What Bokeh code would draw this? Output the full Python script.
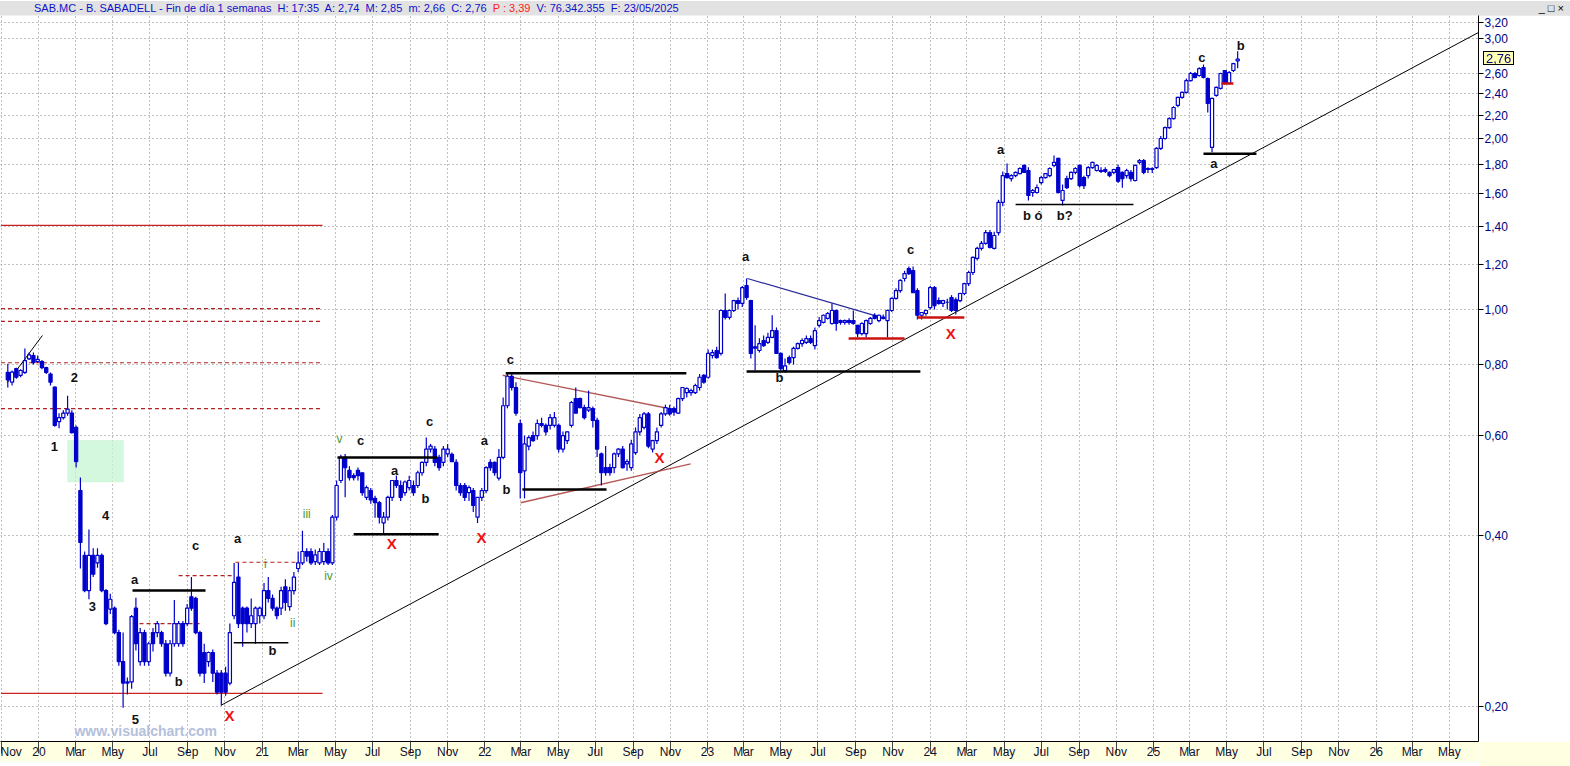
from datetime import datetime, timedelta
from bokeh.plotting import figure
from bokeh.models import Range1d, FixedTicker, CustomJSTickFormatter, Label, BoxAnnotation, Div, ColumnDataSource
from bokeh.layouts import column
from bokeh.core.properties import value
from bokeh.embed import file_html
from bokeh.resources import INLINE

# ---------------- data (weekly candles, first week = 2019-11-11) ----------------
FIRST_WEEK = datetime(2019, 11, 11)

opens = [
 .775,.745,.787,.766,.775,.819,.830,.810,.810,.790,
 .770,.730,.635,.645,.657,.657,.620,.480,.369,.320,
 .369,.358,.369,.320,.297,.298,.270,.240,.221,.221,
 .298,.240,.270,.240,.270,.270,.270,.258,.229,.258,
 .258,.280,.280,.312,.310,.270,.249,.240,.249,.229,
 .229,.229,.220,.289,.338,.298,.298,.280,.280,.289,
 .289,.320,.310,.298,.298,.325,.300,.320,.350,.358,
 .375,.375,.360,.358,.360,.375,.358,.431,.500,.549,
 .521,.510,.521,.516,.467,.480,.465,.457,.421,.431,
 .467,.500,.490,.476,.486,.490,.490,.516,.538,.568,
 .568,.549,.538,.557,.556,.538,.490,.490,.476,.480,
 .431,.467,.480,.538,.538,.505,.549,.677,.763,.729,
 .630,.520,.575,.600,.600,.630,.625,.625,.625,.625,
 .568,.588,.625,.697,.697,.672,.665,.669,.638,.557,
 .527,.527,.527,.557,.568,.535,.527,.560,.609,.620,
 .655,.568,.588,.625,.655,.669,.669,.657,.697,.714,
 .714,.714,.729,.766,.760,.830,.847,.837,.996,.969,
 .996,1.037,1.025,1.102,1.037,.860,.847,.882,.875,.893,
 .918,.837,.781,.823,.823,.854,.871,.875,.889,.864,
 .938,.949,.965,.945,.996,.956,.949,.956,.956,.938,
 .907,.907,.945,.977,.956,.965,.956,.996,1.046,1.080,
 1.134,1.181,1.171,1.080,.977,.984,1.008,1.093,1.037,1.025,
 1.030,1.050,1.040,1.037,1.067,1.111,1.162,1.230,1.281,1.307,
 1.366,1.281,1.366,1.544,1.735,1.700,1.721,1.735,1.793,1.757,
 1.607,1.607,1.672,1.707,1.721,1.793,1.846,1.556,1.700,1.700,
 1.743,1.793,1.707,1.721,1.778,1.757,1.757,1.764,1.743,1.743,
 1.778,1.743,1.721,1.743,1.687,1.816,1.829,1.765,1.765,1.778,
 1.921,2.000,2.090,2.168,2.287,2.363,2.411,2.530,2.603,2.582,
 2.667,2.551,1.930,2.382,2.450,2.635,2.500,2.635,2.740]

highs = [
 .803,.781,.790,.785,.854,.840,.840,.830,.815,.793,
 .775,.732,.657,.665,.705,.665,.625,.506,.375,.410,
 .380,.380,.372,.322,.316,.300,.273,.270,.225,.290,
 .311,.275,.273,.260,.275,.283,.272,.262,.262,.308,
 .283,.283,.303,.338,.312,.272,.258,.250,.252,.232,
 .232,.235,.280,.358,.358,.300,.300,.310,.300,.300,
 .330,.338,.315,.300,.325,.335,.325,.345,.375,.408,
 .380,.380,.378,.380,.388,.380,.435,.500,.555,.557,
 .530,.515,.527,.516,.490,.485,.470,.460,.440,.470,
 .500,.510,.500,.500,.510,.500,.520,.540,.595,.580,
 .575,.555,.575,.580,.560,.545,.495,.495,.490,.485,
 .467,.485,.530,.545,.540,.568,.700,.775,.775,.745,
 .640,.600,.600,.610,.640,.645,.630,.655,.660,.630,
 .610,.610,.690,.729,.700,.680,.720,.675,.645,.560,
 .575,.535,.560,.570,.575,.545,.590,.620,.655,.660,
 .660,.590,.620,.660,.680,.680,.675,.700,.730,.730,
 .725,.740,.770,.770,.850,.850,.860,1.000,1.067,1.000,
 1.040,1.050,1.100,1.134,1.040,.938,.890,.900,.910,.977,
 .930,.840,.820,.830,.860,.875,.890,.900,.900,.930,
 .970,.980,.990,1.025,1.000,.960,.960,.965,.996,.940,
 .950,.960,.970,.985,.980,.980,1.000,1.050,1.090,1.130,
 1.170,1.190,1.190,1.090,.990,1.000,1.100,1.100,1.050,1.040,
 1.045,1.060,1.050,1.070,1.115,1.170,1.240,1.290,1.320,1.380,
 1.380,1.370,1.560,1.750,1.808,1.730,1.750,1.780,1.800,1.780,
 1.630,1.660,1.720,1.740,1.780,1.867,1.850,1.660,1.720,1.750,
 1.780,1.800,1.720,1.790,1.820,1.800,1.780,1.780,1.750,1.770,
 1.800,1.750,1.770,1.760,1.800,1.840,1.840,1.780,1.780,1.930,
 2.020,2.100,2.180,2.280,2.370,2.420,2.550,2.620,2.620,2.670,
 2.700,2.560,2.360,2.470,2.610,2.640,2.630,2.720,2.850]

lows = [
 .729,.735,.755,.760,.770,.815,.800,.805,.785,.770,
 .735,.622,.618,.640,.650,.605,.527,.350,.318,.309,
 .338,.351,.318,.278,.291,.268,.236,.199,.210,.215,
 .251,.236,.236,.236,.250,.265,.255,.226,.226,.255,
 .255,.255,.277,.295,.268,.226,.220,.235,.221,.210,
 .201,.209,.218,.285,.275,.255,.270,.275,.258,.280,
 .285,.305,.295,.285,.290,.295,.295,.315,.345,.355,
 .360,.355,.355,.355,.355,.355,.355,.425,.495,.467,
 .500,.500,.500,.470,.462,.455,.430,.420,.403,.425,
 .460,.485,.460,.470,.480,.470,.485,.510,.530,.560,
 .530,.520,.530,.550,.540,.480,.470,.460,.460,.440,
 .421,.460,.475,.520,.510,.500,.545,.670,.720,.650,
 .465,.465,.565,.585,.590,.620,.600,.615,.620,.560,
 .560,.580,.620,.657,.670,.640,.660,.620,.550,.490,
 .510,.510,.515,.550,.525,.520,.520,.555,.600,.615,
 .570,.560,.580,.620,.650,.650,.650,.655,.690,.700,
 .705,.710,.720,.740,.755,.820,.820,.830,.960,.960,
 .990,1.000,1.010,1.040,.820,.781,.840,.860,.870,.890,
 .835,.781,.775,.800,.800,.850,.860,.870,.870,.850,
 .930,.945,.960,.940,.918,.940,.940,.940,.940,.893,
 .900,.893,.940,.960,.950,.960,.893,.990,1.040,1.070,
 1.120,1.150,1.070,.960,.960,.975,1.000,1.000,1.020,1.010,
 1.000,.990,.980,1.030,1.060,1.100,1.150,1.220,1.270,1.300,
 1.280,1.275,1.350,1.520,1.700,1.680,1.710,1.730,1.740,1.556,
 1.580,1.600,1.660,1.700,1.710,1.780,1.600,1.525,1.630,1.690,
 1.730,1.640,1.630,1.700,1.770,1.750,1.740,1.740,1.710,1.730,
 1.670,1.639,1.700,1.680,1.680,1.800,1.730,1.740,1.740,1.770,
 1.910,1.990,2.080,2.160,2.270,2.350,2.400,2.520,2.550,2.570,
 2.550,2.222,1.891,2.370,2.440,2.490,2.490,2.620,2.660]

closes = [
 .752,.776,.760,.781,.813,.832,.806,.817,.790,.775,
 .745,.625,.645,.657,.668,.607,.540,.389,.320,.369,
 .342,.369,.320,.280,.309,.270,.240,.220,.220,.288,
 .258,.270,.240,.258,.258,.280,.258,.229,.258,.280,
 .280,.258,.298,.298,.270,.229,.229,.249,.229,.212,
 .212,.212,.270,.331,.280,.280,.280,.289,.298,.298,
 .320,.310,.298,.289,.320,.305,.320,.338,.358,.375,
 .368,.358,.370,.375,.375,.358,.431,.490,.549,.527,
 .506,.506,.510,.476,.486,.462,.457,.431,.431,.467,
 .500,.490,.467,.497,.500,.476,.516,.538,.568,.575,
 .538,.527,.568,.568,.540,.490,.476,.467,.486,.452,
 .467,.480,.527,.527,.516,.549,.677,.763,.729,.657,
 .516,.580,.595,.588,.630,.625,.609,.645,.645,.568,
 .600,.609,.686,.657,.672,.645,.672,.638,.568,.516,
 .516,.516,.557,.568,.527,.540,.580,.609,.645,.655,
 .575,.588,.609,.655,.672,.655,.660,.697,.729,.726,
 .720,.735,.760,.745,.837,.840,.823,.996,.969,.996,
 1.037,1.025,1.093,1.050,.837,.855,.871,.864,.893,.918,
 .837,.787,.796,.806,.854,.871,.882,.889,.875,.918,
 .956,.977,.984,.996,.945,.949,.956,.949,.945,.907,
 .945,.956,.965,.965,.977,.970,.996,1.046,1.080,1.125,
 1.157,1.157,1.071,.977,.988,.996,1.093,1.016,1.025,1.037,
 1.030,.996,.996,1.067,1.111,1.162,1.235,1.281,1.307,1.366,
 1.286,1.350,1.544,1.721,1.707,1.721,1.743,1.771,1.743,1.588,
 1.620,1.639,1.707,1.735,1.771,1.816,1.607,1.620,1.639,1.743,
 1.771,1.652,1.652,1.778,1.816,1.793,1.750,1.750,1.721,1.764,
 1.682,1.700,1.757,1.700,1.793,1.829,1.743,1.771,1.771,1.921,
 2.000,2.090,2.168,2.268,2.363,2.411,2.530,2.603,2.561,2.655,
 2.561,2.306,2.354,2.460,2.603,2.500,2.613,2.710,2.760]

price_ticks = [0.2, 0.4, 0.6, 0.8, 1.0, 1.2, 1.4, 1.6, 1.8, 2.0, 2.2, 2.4, 2.6, 3.0, 3.2]
month_ticks = [(2019, 11)] + [(y, m) for y in range(2020, 2027) for m in (1, 3, 5, 7, 9, 11) if (y, m) <= (2026, 5)]
last_price = 2.76

# annotations, x in weeks from FIRST_WEEK, y in price
wave_text = ["2", "1", "4", "3", "5", "a", "b", "c", "a", "b", "c", "a", "b", "c", "a", "b", "c",
             "a", "b", "c", "a", "b ó", "b?", "c", "b", "a"]
wave_k = [15.6, 10.9, 22.9, 19.8, 29.9, 29.7, 40.0, 44.0, 53.8, 62.0, 82.6, 90.6, 97.8, 98.8, 111.6, 116.8, 117.7,
          172.8, 180.7, 211.4, 232.5, 240.0, 247.5, 279.6, 288.7, 282.4]
wave_p = [0.760, 0.575, 0.434, 0.300, 0.190, 0.335, 0.221, 0.385, 0.395, 0.251, 0.588, 0.521, 0.465, 0.635, 0.588, 0.482, 0.816,
          1.24, 0.760, 1.275, 1.913, 1.464, 1.464, 2.78, 2.92, 1.808]
x_k = [51.9, 89.9, 110.9, 152.6, 220.8]
x_p = [0.193, 0.387, 0.397, 0.549, 0.907]
roman_text = ["i", "ii", "iii", "iv", "v"]
roman_k = [60.3, 66.7, 70.0, 75.1, 77.7]
roman_p = [0.357, 0.281, 0.437, 0.339, 0.591]

# horizontal levels: (k0, k1, price)
red_solid = [(-1.6, 73.7, 1.406), (-1.6, 73.7, 0.211)]
red_dash = [(-1.6, 73.7, 1.004), (-1.6, 73.7, 0.953), (-1.6, 73.7, 0.806), (-1.6, 73.7, 0.669),
            (40.0, 52.6, 0.340), (53.3, 67.4, 0.359), (29.2, 45.1, 0.280)]
black_thick = [(29.2, 46.3, 0.320), (77.2, 100.6, 0.549), (81.0, 100.9, 0.402), (116.6, 158.9, 0.772),
               (120.5, 140.2, 0.482), (173.0, 213.7, 0.778), (280.0, 292.4, 1.88)]
black_thin = [(52.9, 65.7, 0.259), (236.0, 263.6, 1.53)]
red_thick = [(196.9, 210.0, 0.889), (213.0, 224.0, 0.968), (284.2, 287.0, 2.50)]
# sloping lines: (k0, p0, k1, p1)
trend_black = [(49.9, 0.201, 346.0, 3.12), (-0.1, 0.744, 8.1, 0.90)]
trend_blue = [(173.2, 1.134, 205.5, 0.964)]
trend_brown = [(115.9, 0.766, 157.1, 0.664), (120.1, 0.457, 159.9, 0.535)]
green_zone = (14.0, 27.1, 0.497, 0.588)

# ---------------- helpers ----------------
def wk(k):
    return FIRST_WEEK + timedelta(days=7.0 * k)

def ms(d):
    return (d - datetime(1970, 1, 1)).total_seconds() * 1000.0

BLUE = "#0000cc"
YELLOW = "#ffffe1"
W, H_TITLE, H_FIG = 1570, 15, 751
RIGHT, BOTTOM = 92, 25
Y0, Y1 = 0.1736, 3.293

n = min(len(opens), len(highs), len(lows), len(closes))
dates = [wk(k) for k in range(n)]
up = [closes[i] >= opens[i] for i in range(n)]
src_up = ColumnDataSource(dict(
    x=[dates[i] for i in range(n) if up[i]],
    top=[closes[i] for i in range(n) if up[i]],
    bot=[opens[i] for i in range(n) if up[i]]))
src_dn = ColumnDataSource(dict(
    x=[dates[i] for i in range(n) if not up[i]],
    top=[opens[i] for i in range(n) if not up[i]],
    bot=[closes[i] for i in range(n) if not up[i]]))

x_start, x_end = wk(-1.71), wk(344.4)

p = figure(width=W, height=H_FIG, x_axis_type="datetime", y_axis_type="log", y_axis_location="right",
           x_range=Range1d(x_start, x_end), y_range=Range1d(Y0, Y1),
           output_backend="svg", toolbar_location=None,
           min_border_left=0, min_border_top=0, min_border_right=RIGHT, min_border_bottom=BOTTOM)
p.background_fill_color = "white"
p.border_fill_color = "white"
p.outline_line_color = None

# axes
mt = [ms(datetime(y, m, 1)) for (y, m) in month_ticks]
xt = FixedTicker(ticks=mt)
xa = p.xaxis[0]
xa.ticker = xt
xa.formatter = CustomJSTickFormatter(code="""
const d = new Date(tick);
const m = d.getUTCMonth();
if (m == 0) { return String(d.getUTCFullYear()).slice(2); }
return ['Jan','Feb','Mar','Apr','May','Jun','Jul','Aug','Sep','Oct','Nov','Dec'][m];
""")
xa.axis_line_color = "black"
xa.major_tick_line_color = "#444444"
xa.major_tick_out = 12
xa.major_tick_in = 0
xa.minor_tick_line_color = None
xa.major_label_text_font = "Liberation Sans Narrow, Liberation Sans"
xa.major_label_text_font_size = "12px"
xa.major_label_text_color = "#101030"
xa.major_label_text_align = "left"
xa.major_label_standoff = -9
xa.background_fill_color = YELLOW

yt = FixedTicker(ticks=price_ticks)
ya = p.yaxis[0]
ya.ticker = yt
ya.formatter = CustomJSTickFormatter(code="return tick.toFixed(2).replace('.', ',');")
ya.axis_line_color = "black"
ya.major_tick_line_color = "black"
ya.major_tick_out = 5
ya.major_tick_in = 0
ya.minor_tick_line_color = None
ya.major_label_text_font = "Liberation Sans"
ya.major_label_text_font_size = "12px"
ya.major_label_text_color = "#000080"
ya.major_label_standoff = 1

p.xgrid.ticker = xt
p.ygrid.ticker = yt
for g in (p.xgrid[0], p.ygrid[0]):
    g.grid_line_color = "#808080"
    g.grid_line_dash = "1 3"
    g.grid_line_width = 1

# green zone
gz = BoxAnnotation(left=wk(green_zone[0]), right=wk(green_zone[1]), bottom=green_zone[2], top=green_zone[3],
                   fill_color="#c6f5d2", fill_alpha=0.75, line_color="#b8eec6", line_width=1, level="underlay")
p.add_layout(gz)

def hseg(rows, **kw):
    s = ColumnDataSource(dict(x0=[wk(r[0]) for r in rows], x1=[wk(r[1]) for r in rows],
                              y=[r[2] for r in rows]))
    p.segment(x0="x0", y0="y", x1="x1", y1="y", source=s, **kw)

def dseg(rows, **kw):
    s = ColumnDataSource(dict(x0=[wk(r[0]) for r in rows], y0=[r[1] for r in rows],
                              x1=[wk(r[2]) for r in rows], y1=[r[3] for r in rows]))
    p.segment(x0="x0", y0="y0", x1="x1", y1="y1", source=s, **kw)

hseg(red_solid, line_color="#cc2222", line_width=1.2)
hseg(red_dash, line_color="#b22222", line_width=1.2, line_dash="4 3")
dseg(trend_black, line_color="black", line_width=1)
dseg(trend_blue, line_color="#2a2a9a", line_width=1.2)
dseg(trend_brown, line_color="#a83a3a", line_width=1.4, line_alpha=0.85)

# candles
p.segment(x0=dates[:n], y0=lows[:n], x1=dates[:n], y1=highs[:n], line_color=BLUE, line_width=1.2)
bw = 5.2 * 86400000
p.vbar(x="x", top="top", bottom="bot", width=bw, source=src_up, fill_color="white", line_color=BLUE, line_width=1.2)
p.vbar(x="x", top="top", bottom="bot", width=bw, source=src_dn, fill_color=BLUE, line_color=BLUE, line_width=1.2)

hseg(black_thick, line_color="black", line_width=2.5)
hseg(black_thin, line_color="black", line_width=1.5)
hseg(red_thick, line_color="#cc1111", line_width=2.5)

# text labels
p.text(x=[wk(k) for k in wave_k], y=wave_p, text=wave_text, text_font=value("Liberation Sans"),
       text_font_style="bold", text_font_size="13px", text_color="#111111",
       text_align="center", text_baseline="middle")
p.text(x=[wk(k) for k in x_k], y=x_p, text=["X"] * len(x_k), text_font=value("Liberation Sans"),
       text_font_style="bold", text_font_size="15px", text_color="#ee1111",
       text_align="center", text_baseline="middle")
p.text(x=[wk(k) for k in roman_k], y=roman_p, text=roman_text, text_font=value("Liberation Sans"),
       text_font_size="12px", text_color="#4a9a2a", text_align="center", text_baseline="middle")

p.add_layout(Label(x=ms(wk(32.3)), y=0.181, text="www.visualchart.com", text_font="Liberation Sans",
                   text_font_style="bold", text_font_size="14px", text_color="#b4c0dc",
                   text_align="center", text_baseline="middle"))

# screen position of the last price on the price axis (the frame clips annotations,
# so the price box is drawn as a fixed HTML element over the axis panel)
import math
frame_h = H_FIG - BOTTOM
frame_w = W - RIGHT
y_last = H_TITLE + frame_h * (math.log(Y1) - math.log(last_price)) / (math.log(Y1) - math.log(Y0))
last_txt = ("%.2f" % last_price).replace(".", ",")

title_html = (
    '<div style="position:relative;width:%dpx;height:%dpx;background:#e2e2e2;'
    'font-family:Arial,\'Liberation Sans\',sans-serif;font-size:11px;line-height:%dpx;'
    'color:#1010c8;white-space:nowrap;">'
    '<span style="padding-left:34px;">SAB.MC - B. SABADELL - Fin de día 1 semanas&nbsp; H: 17:35&nbsp; A: 2,74&nbsp; '
    'M: 2,85&nbsp; m: 2,66&nbsp; C: 2,76&nbsp; <span style="color:#ff2020">P : 3,39</span>&nbsp; '
    'V: 76.342.355&nbsp; F: 23/05/2025</span>'
    '<span style="position:absolute;right:6px;top:0;color:#000;font-size:11px;">_ &#9633; &#215;</span>'
    '<span style="position:fixed;z-index:20;left:%dpx;top:%dpx;height:14px;line-height:14px;padding:0 2px;'
    'background:#ffffb4;border:1px solid #000;color:#000080;font-size:13px;">%s</span>'
    '<span style="position:fixed;z-index:19;left:%dpx;top:%dpx;width:%dpx;height:%dpx;background:%s;"></span>'
    '</div>') % (W, H_TITLE, H_TITLE, frame_w + 5, int(round(y_last - 8)), last_txt,
                 frame_w + 1, H_TITLE + frame_h + 1, RIGHT - 1, BOTTOM - 1, YELLOW)
title = Div(text=title_html, width=W, height=H_TITLE, margin=(0, 0, 0, 0))

layout = column(title, p, spacing=0)
open("out.html", "w").write(file_html(layout, INLINE))
